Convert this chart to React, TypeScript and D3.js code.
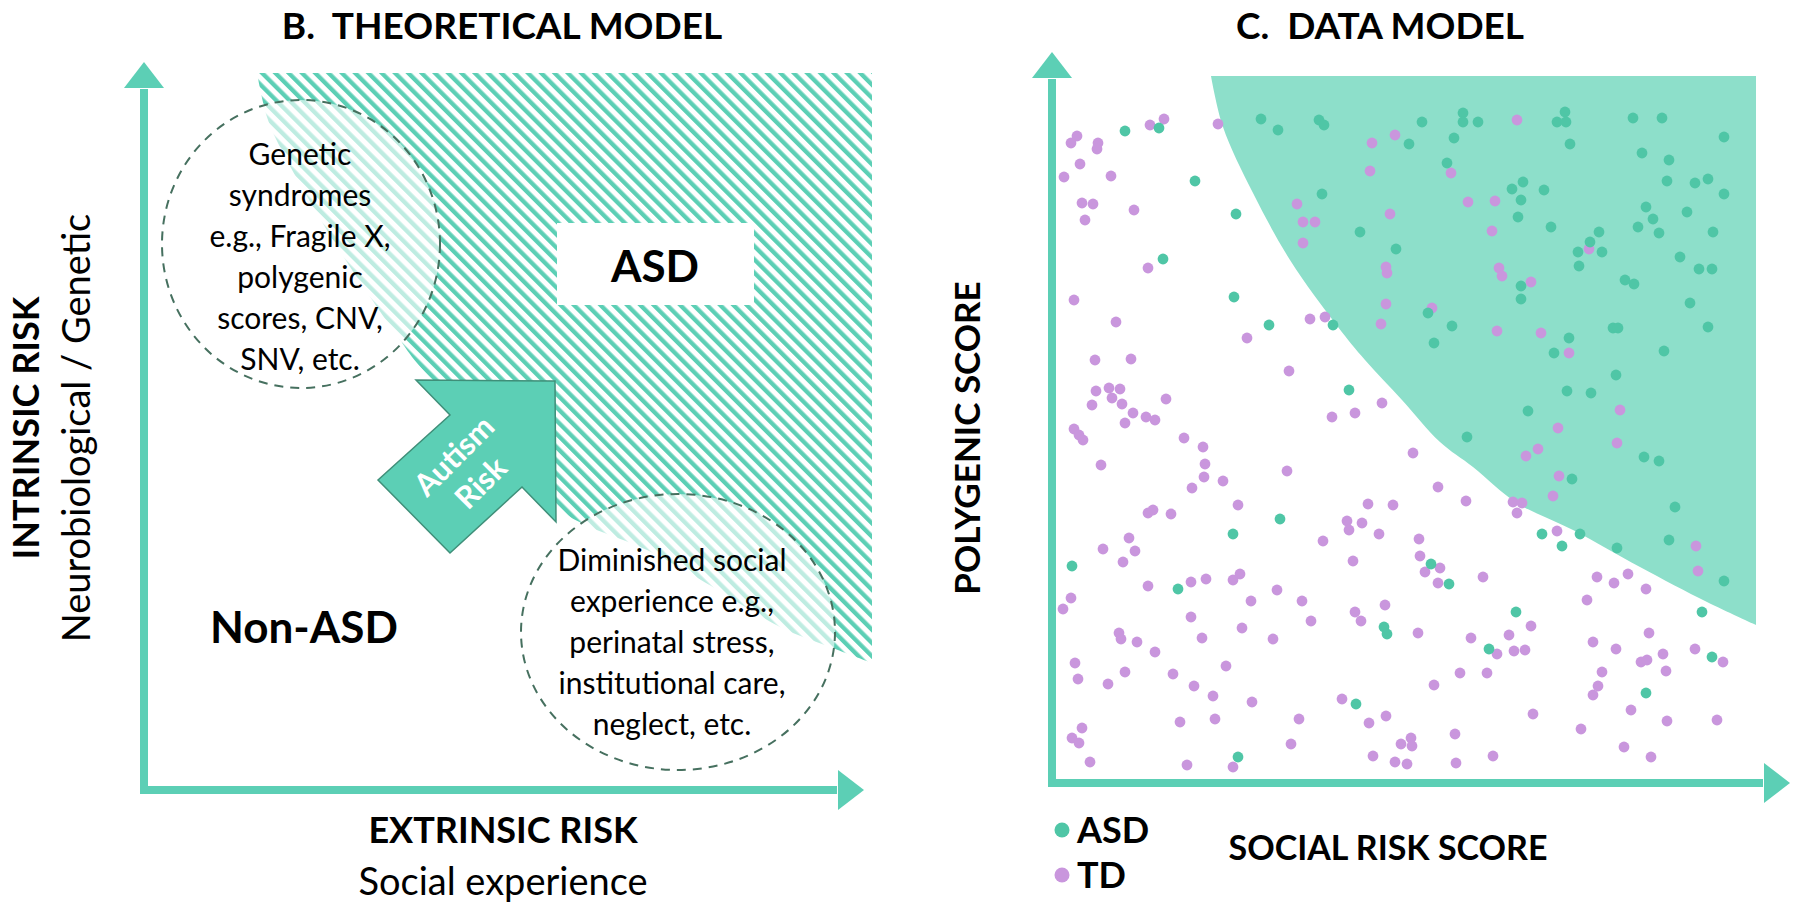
import { useEffect, useRef } from "react";
import * as d3 from "d3";

type Pt = [number, number];

const WIDTH = 1800;
const HEIGHT = 909;
const FONT = "Lato, 'Open Sans', sans-serif";

const COLORS = {
  axis: "#5ccfb5",
  hatch: "#5ccfb5",
  region: "#8ddfca",
  asd: "#4fc6a6",
  td: "#c996dd",
  dash: "#46705f",
  arrowEdge: "#3f8f79",
};

const TITLES = ["B.  THEORETICAL MODEL", "C.  DATA MODEL"];
const GROUPS = ["ASD", "TD"];
const GENETIC_LINES = ["Genetic", "syndromes", "e.g., Fragile X,", "polygenic", "scores, CNV,", "SNV, etc."];
const SOCIAL_LINES = ["Diminished social", "experience e.g.,", "perinatal stress,", "institutional care,", "neglect, etc."];

// theoretical model, in (extrinsic, intrinsic) units
const HATCH_BOUNDARY: Pt[] = [
  [11.3, 71.7], [12.3, 67.3], [13.6, 64.3], [18.9, 55.0], [23.3, 48.3], [25.6, 45.0],
  [27.3, 42.7], [33.6, 36.0], [41.9, 27.8], [44.6, 26.3], [50.3, 24.0], [56.9, 20.3],
  [63.6, 16.3], [68.6, 14.3], [72.8, 12.7],
];
const HATCH_CORNER: Pt = [72.8, 71.7];
const ARROW_SHAPE: Pt[] = [
  [41.1, 40.9], [27.2, 41.0], [30.6, 37.5], [23.4, 31.0], [30.6, 23.7], [37.8, 30.3], [41.2, 26.8],
];
const GENETIC_CIRCLE = { cx: 15.7, cy: 54.6, rx: 13.9, ry: 14.4 };
const SOCIAL_CIRCLE = { cx: 53.4, cy: 15.8, rx: 15.7, ry: 13.8 };

// data model, in (social risk, polygenic) units
const DECISION_BOUNDARY: Pt[] = [
  [15.9, 70.7], [17.1, 65.6], [20.1, 59.0], [23.8, 52.3], [28.6, 45.6], [31.3, 42.3],
  [35.0, 38.3], [38.8, 34.1], [42.1, 31.6], [46.5, 28.0], [52.1, 25.3], [58.8, 21.6],
  [65.5, 18.1], [70.4, 15.8],
];
const REGION_CORNER: Pt = [70.4, 70.7];

const ASD_POINTS: Pt[] = [
  [7.3, 65.2], [10.7, 65.5], [14.3, 60.2], [18.4, 56.9], [11.1, 52.4], [18.2, 48.6], [21.7, 45.8],
  [28.1, 45.8], [20.9, 66.4], [22.6, 65.3], [26.7, 66.3], [27.2, 65.8], [37.0, 66.1], [35.7, 63.9],
  [27.0, 58.9], [30.8, 55.1], [34.4, 53.4], [37.6, 47.0], [38.2, 44.0],
  [41.1, 67.0], [41.1, 66.1], [42.6, 66.1], [40.2, 64.5], [51.3, 67.1], [50.5, 66.1], [51.4, 66.1],
  [51.8, 63.9], [39.5, 62.0], [58.1, 66.5], [61.0, 66.5], [67.2, 64.6], [59.0, 63.0], [61.7, 62.3],
  [61.5, 60.2], [64.3, 60.0], [65.6, 60.4], [67.2, 58.9], [47.1, 60.1], [46.0, 59.4], [49.2, 59.3],
  [46.9, 58.3], [46.6, 56.6], [49.9, 55.6], [54.7, 55.1], [53.8, 54.1], [52.6, 53.1], [55.0, 53.1],
  [52.7, 51.7], [59.4, 57.6], [60.1, 56.4], [58.6, 55.6], [60.7, 55.0], [63.5, 57.1], [66.1, 55.1],
  [62.8, 52.6], [64.7, 51.4], [66.0, 51.4], [57.3, 50.3], [58.2, 49.9], [46.9, 49.7], [46.9, 48.4],
  [63.8, 48.0], [40.0, 45.7], [56.1, 45.5], [56.6, 45.5], [65.6, 45.6], [51.7, 44.5], [50.2, 43.0],
  [61.2, 43.2],
  [29.7, 39.3], [22.8, 26.4], [18.1, 24.9], [2.0, 21.7], [12.6, 19.4], [37.9, 21.9], [33.2, 15.6],
  [33.5, 14.9], [30.4, 7.9], [18.6, 2.6],
  [56.4, 40.8], [51.5, 39.2], [53.9, 39.0], [47.6, 37.2], [41.5, 34.6], [59.2, 32.6], [60.7, 32.2],
  [52.0, 30.4], [62.3, 27.6], [49.0, 24.9], [52.8, 24.9], [51.0, 23.7], [56.5, 23.5], [61.7, 24.3],
  [67.2, 20.2], [65.0, 17.1], [39.7, 19.9], [46.4, 17.1], [43.7, 13.4], [59.4, 9.0], [66.0, 12.6],
];

const TD_POINTS: Pt[] = [
  [2.5, 64.7], [1.9, 64.0], [4.6, 64.0], [4.5, 63.4], [2.8, 61.9], [1.2, 60.6], [5.9, 60.7],
  [3.0, 58.0], [4.1, 57.9], [3.3, 56.3], [8.2, 57.3], [9.8, 65.8], [11.2, 66.4], [16.6, 65.9],
  [9.6, 51.5], [2.2, 48.3], [6.4, 46.1], [4.3, 42.3], [7.9, 42.4], [19.5, 44.5], [25.8, 46.4],
  [27.3, 46.6], [32.0, 64.0], [34.3, 64.8], [31.8, 61.2], [24.5, 57.9], [33.8, 56.9], [25.1, 56.1],
  [26.3, 56.1], [25.1, 54.0], [33.4, 51.6], [33.5, 51.0], [33.4, 47.9], [32.9, 45.9], [38.0, 47.5],
  [46.5, 66.3], [39.9, 61.0], [41.6, 58.1], [44.3, 58.2], [44.0, 55.2], [44.7, 51.5], [45.0, 50.7],
  [47.9, 50.1], [53.7, 53.4], [44.5, 45.2], [48.9, 45.0], [51.7, 43.0],
  [23.7, 41.2], [4.4, 39.2], [5.7, 39.5], [6.8, 39.4], [6.0, 38.5], [4.0, 37.8], [7.0, 37.9],
  [8.1, 37.0], [9.4, 36.6], [10.3, 36.3], [7.3, 36.0], [11.4, 38.4], [2.2, 35.4], [2.7, 34.8],
  [3.1, 34.3], [4.9, 31.8], [13.2, 34.5], [15.1, 33.6], [15.3, 31.9], [15.2, 30.6], [17.1, 30.2],
  [14.0, 29.5], [23.5, 31.2], [28.0, 36.6], [30.3, 37.0], [33.0, 38.0], [36.1, 33.0], [38.6, 29.6],
  [18.6, 27.8], [9.6, 27.0], [10.1, 27.3], [11.9, 26.9], [31.6, 27.9], [34.1, 27.8], [29.5, 26.2],
  [29.7, 25.3], [31.0, 26.0], [32.7, 24.9], [27.1, 24.2], [36.7, 24.4], [7.7, 24.5], [5.1, 23.4],
  [8.3, 23.2], [7.1, 22.1], [30.1, 22.2], [36.8, 22.7], [37.3, 21.1], [38.6, 20.0], [9.6, 19.7],
  [13.9, 20.1], [15.4, 20.4], [18.1, 20.3], [18.8, 20.9], [22.5, 19.3], [19.9, 18.2], [25.0, 18.2],
  [1.9, 18.5], [1.1, 17.4], [13.9, 16.6], [25.9, 16.2], [19.0, 15.5], [6.7, 15.0], [6.9, 14.4],
  [8.5, 14.1], [15.0, 14.5], [22.1, 14.4], [33.3, 17.8], [30.3, 17.1], [30.9, 16.2], [36.6, 15.0],
  [10.3, 13.1], [2.3, 12.0], [2.6, 10.4], [7.3, 11.1], [5.6, 9.9], [12.1, 10.9], [17.4, 11.7],
  [14.2, 9.7], [16.1, 8.7], [20.0, 8.1], [29.0, 8.4], [38.2, 9.8], [12.8, 6.1], [16.3, 6.4],
  [24.7, 6.4], [31.7, 6.0], [33.4, 6.7], [3.0, 5.5], [2.0, 4.5], [2.7, 4.0], [23.9, 3.9],
  [34.9, 3.9], [35.9, 4.5], [36.0, 3.7], [3.8, 2.1], [13.5, 1.8], [18.1, 1.6], [32.1, 2.7],
  [34.3, 2.1], [35.5, 1.9],
  [56.8, 37.3], [50.6, 35.5], [56.5, 34.0], [47.4, 32.7], [48.6, 33.4], [50.7, 30.7], [50.1, 28.7],
  [46.1, 28.1], [47.0, 28.0], [46.5, 27.0], [50.5, 25.2], [64.4, 23.7], [64.6, 21.2], [38.8, 21.5],
  [41.4, 28.2], [54.5, 20.6], [56.2, 20.0], [57.6, 20.9], [59.4, 19.4], [53.5, 18.3], [43.1, 20.6],
  [47.9, 15.7], [45.7, 14.8], [41.9, 14.5], [46.2, 13.2], [47.3, 13.3], [44.5, 12.9], [54.1, 14.1],
  [56.4, 13.4], [59.7, 15.0], [61.1, 12.9], [64.3, 13.4], [58.9, 12.1], [59.5, 12.3], [61.4, 11.2],
  [67.1, 12.1], [55.0, 11.1], [54.6, 9.7], [54.1, 8.8], [40.8, 11.0], [43.5, 11.0], [57.9, 7.3],
  [48.1, 6.9], [61.5, 6.2], [66.5, 6.3], [52.9, 5.4], [40.3, 4.9], [57.2, 3.6], [59.9, 2.6],
  [44.1, 2.7], [40.4, 2.0],
];

const LAYOUT = {
  left: { x0: 144, y0: 790, axisEnd: { x: 72, y: 72.8 } },
  right: { x0: 1052, y0: 783, axisEnd: { x: 73.8, y: 73.1 } },
  span: 720,
  domainMax: 72,
  axisWidth: 8,
  head: { len: 2.6, half: 2.0 },
  dotRadius: 5.4,
};

function buildScales(panel: { x0: number; y0: number }) {
  const x = d3.scaleLinear().domain([0, LAYOUT.domainMax]).range([panel.x0, panel.x0 + LAYOUT.span]);
  const y = d3.scaleLinear().domain([0, LAYOUT.domainMax]).range([panel.y0, panel.y0 - LAYOUT.span]);
  return { x, y };
}

function addText(g: any, opts: any) {
  const t = g
    .append("text")
    .attr("x", opts.x)
    .attr("y", opts.y)
    .attr("text-anchor", opts.anchor || "middle")
    .attr("font-family", FONT)
    .attr("font-size", opts.size)
    .attr("font-weight", opts.weight || 400)
    .attr("fill", opts.fill || "#000")
    .style("white-space", "pre")
    .text(opts.text);
  if (opts.rotate) t.attr("transform", `rotate(${opts.rotate},${opts.x},${opts.y})`);
  return t;
}

function drawAxes(g: any, x: any, y: any, end: { x: number; y: number }) {
  const { len, half } = LAYOUT.head;
  const w = LAYOUT.axisWidth;
  g.append("line")
    .attr("x1", x(0)).attr("y1", y(0) + w / 2)
    .attr("x2", x(0)).attr("y2", y(end.y - len) + 1)
    .attr("stroke", COLORS.axis).attr("stroke-width", w);
  g.append("polygon")
    .attr("points", [[x(-half), y(end.y - len)], [x(half), y(end.y - len)], [x(0), y(end.y)]].join(" "))
    .attr("fill", COLORS.axis);
  g.append("line")
    .attr("x1", x(0) - w / 2).attr("y1", y(0))
    .attr("x2", x(end.x - len) - 1).attr("y2", y(0))
    .attr("stroke", COLORS.axis).attr("stroke-width", w);
  g.append("polygon")
    .attr("points", [[x(end.x - len), y(half)], [x(end.x - len), y(-half)], [x(end.x), y(0)]].join(" "))
    .attr("fill", COLORS.axis);
}

function drawTheoretical(svg: any) {
  const { x, y } = buildScales(LAYOUT.left);
  const g = svg.append("g");

  const boundary = d3.line<Pt>().x((d) => x(d[0])).y((d) => y(d[1])).curve(d3.curveCatmullRom.alpha(0.5));
  g.append("path")
    .attr("d", `${boundary(HATCH_BOUNDARY)}L${x(HATCH_CORNER[0])},${y(HATCH_CORNER[1])}Z`)
    .attr("fill", "url(#hatch)");

  [GENETIC_CIRCLE, SOCIAL_CIRCLE].forEach((c) => {
    g.append("ellipse")
      .attr("cx", x(c.cx)).attr("cy", y(c.cy))
      .attr("rx", x(c.rx) - x(0)).attr("ry", x(c.ry) - x(0))
      .attr("fill", "#fff").attr("fill-opacity", 0.6)
      .attr("stroke", COLORS.dash).attr("stroke-width", 2).attr("stroke-dasharray", "9 7");
  });

  // white label box over the hatch
  g.append("rect").attr("x", 557).attr("y", 223).attr("width", 197).attr("height", 82).attr("fill", "#fff");
  addText(g, { x: 655, y: 282, text: "ASD", size: 44, weight: 700 });

  g.append("polygon")
    .attr("points", ARROW_SHAPE.map((d) => [x(d[0]), y(d[1])]).join(" "))
    .attr("fill", COLORS.axis)
    .attr("stroke", COLORS.arrowEdge)
    .attr("stroke-width", 1.5)
    .attr("stroke-linejoin", "miter");
  const at = g.append("g").attr("transform", `translate(${x(32.4)},${y(32.0)}) rotate(-45)`);
  addText(at, { x: 0, y: -9, text: "Autism", size: 31, weight: 700, fill: "#fff" });
  addText(at, { x: 0, y: 29, text: "Risk", size: 31, weight: 700, fill: "#fff" });

  GENETIC_LINES.forEach((line, i) => addText(g, { x: 300, y: 165 + i * 41, text: line, size: 30 }));
  SOCIAL_LINES.forEach((line, i) => addText(g, { x: 672, y: 571 + i * 41, text: line, size: 30 }));

  addText(g, { x: 210, y: 643, text: "Non-ASD", size: 44, weight: 700, anchor: "start" });

  drawAxes(g, x, y, LAYOUT.left.axisEnd);

  addText(g, { x: 502, y: 39, text: TITLES[0], size: 37, weight: 700 });
  addText(g, { x: 39, y: 428, text: "INTRINSIC RISK", size: 36, weight: 700, rotate: -90 });
  addText(g, { x: 90, y: 428, text: "Neurobiological / Genetic", size: 38, rotate: -90 });
  addText(g, { x: 503, y: 843, text: "EXTRINSIC RISK", size: 36, weight: 700 });
  addText(g, { x: 503, y: 895, text: "Social experience", size: 38 });
}

function drawDataModel(svg: any) {
  const { x, y } = buildScales(LAYOUT.right);
  const g = svg.append("g");

  const boundary = d3.line<Pt>().x((d) => x(d[0])).y((d) => y(d[1])).curve(d3.curveCatmullRom.alpha(0.5));
  g.append("path")
    .attr("d", `${boundary(DECISION_BOUNDARY)}L${x(REGION_CORNER[0])},${y(REGION_CORNER[1])}Z`)
    .attr("fill", COLORS.region);

  const color = d3.scaleOrdinal<string>().domain(GROUPS).range([COLORS.asd, COLORS.td]);
  const series: [string, Pt[]][] = [["TD", TD_POINTS], ["ASD", ASD_POINTS]];
  series.forEach(([name, pts]) => {
    g.append("g")
      .selectAll("circle")
      .data(pts)
      .join("circle")
      .attr("cx", (d: Pt) => x(d[0]))
      .attr("cy", (d: Pt) => y(d[1]))
      .attr("r", LAYOUT.dotRadius)
      .attr("fill", color(name));
  });

  drawAxes(g, x, y, LAYOUT.right.axisEnd);

  addText(g, { x: 1380, y: 39, text: TITLES[1], size: 37, weight: 700 });
  addText(g, { x: 980, y: 438, text: "POLYGENIC SCORE", size: 35, weight: 700, rotate: -90 });
  addText(g, { x: 1388, y: 860, text: "SOCIAL RISK SCORE", size: 34, weight: 700 });

  GROUPS.forEach((name, i) => {
    const cy = 830 + i * 45;
    g.append("circle").attr("cx", 1062).attr("cy", cy).attr("r", 7.5).attr("fill", color(name));
    addText(g, { x: 1077, y: cy + 13, text: name, size: 36, weight: 700, anchor: "start" });
  });
}

export default function App() {
  const ref = useRef<SVGSVGElement | null>(null);

  useEffect(() => {
    const el = ref.current;
    if (!el) return;
    const svg = d3.select(el);
    svg.selectAll("*").remove();

    const pattern = svg
      .append("defs")
      .append("pattern")
      .attr("id", "hatch")
      .attr("patternUnits", "userSpaceOnUse")
      .attr("width", 9.4)
      .attr("height", 9.4)
      .attr("patternTransform", "rotate(-45)");
    pattern.append("rect").attr("width", 4.3).attr("height", 9.4).attr("fill", COLORS.hatch);

    svg.append("rect").attr("width", WIDTH).attr("height", HEIGHT).attr("fill", "#fff");
    drawTheoretical(svg);
    drawDataModel(svg);
  }, []);

  return (
    <svg
      ref={ref}
      width={WIDTH}
      height={HEIGHT}
      style={{ position: "absolute", left: 0, top: 0, display: "block" }}
    />
  );
}
